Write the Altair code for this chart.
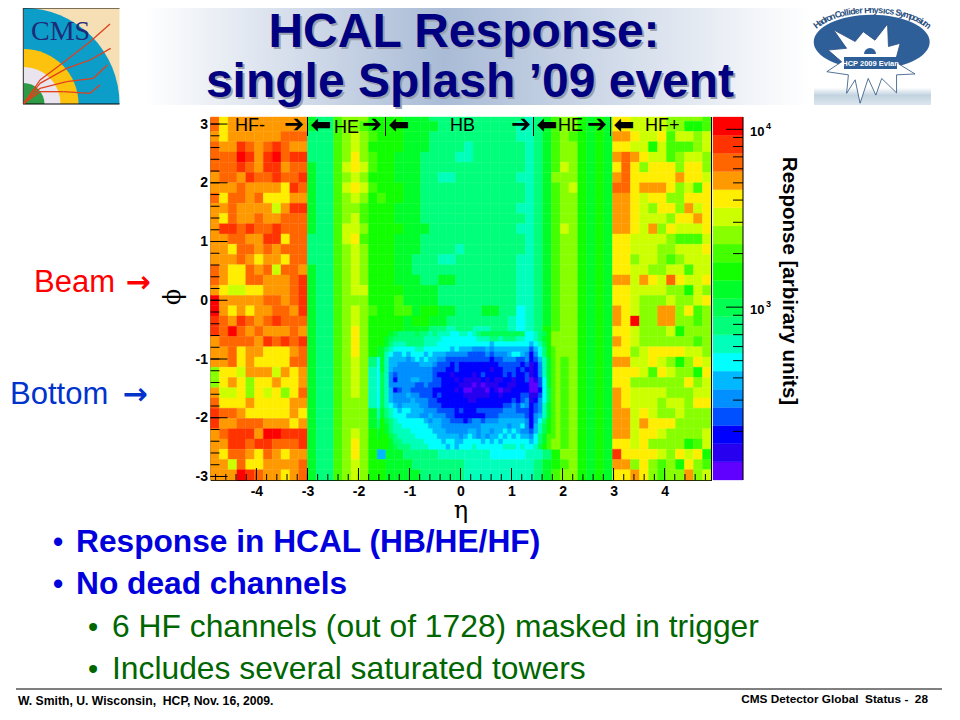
import math
import altair as alt
import pandas as pd

# ---- heat map, one letter per band of the colour bar ("a" lowest, "t" highest) ----
BANDS = "abcdefghijklmnopqrst"
BAND_COLOURS = ["#6000ff", "#2800f0", "#0000ff", "#0050ff", "#0090ff", "#00b8ff", "#00ffff",
                "#00ffbb", "#00ff7a", "#00ff50", "#00ff2a", "#11ff00", "#44ff00", "#88ff00",
                "#ccff00", "#ffee00", "#ff9900", "#ff6600", "#ff3300", "#ff0000"]

hf_minus = [
    "rpqqqqqqqqq", "rpqqqqqqqqq", "qpqqqqqqrrr", "rqqsrqrsrqq", "rrrtsqstrss", "rrrsrqssqrr",
    "qrrqsrrsrrs", "qqqrqqqqpsr", "rprrqrpppqq", "qqrqqqqoqss", "qprqqrqqrrr", "qssrsrrsrrr",
    "qqrrqqssprr", "qqprrqrqrrr", "qqqrqpqqprr", "rqpprqrorrq", "rqpprrqqqrs", "qpooppqqqrs",
    "tqqqqqrrqrs", "tqpqpqqrrqs", "srqsrqrsrrr", "srtrqrqqqrq", "qrrrrqsrsrs", "qqrpqqpppqr",
    "qqrpqpppprr", "nppoqqqoqpq", "npqpnppqppq", "qoopnpopnpr", "rpppqppppqq", "srrqpppppqp",
    "sqqrrrqqqpq", "qrsssqttsss", "qqssrssrrrs", "qprrqprqpqq", "qqorppqqqqr", "qqqtsrqqpqr",
]

barrel = [
    "kjjmn nnlll lkkkj jjjjj jjjjj ijkmn nlklk", "kjjmn nmlll lkkkk jjjjj jjjji ijkmn nlklk",
    "jjjmn onmll lkkkj jjjjj jjjji ijkmn mlklk", "jjjmn onlll lkkkj jjjij jjjjj ijkmn nlklk",
    "jjjmn pnmll kkkjj jjiij jjjjj ijkmn nlklk", "kjjmo pomll kkkjj jjjjj jjjjj ijkmo nlklk",
    "kjjmn onlll kkkjj iijjj jjjji ijknn nlklk", "kjjmo pomll lkkjj jjjjj jjjjj ijkmn olklk",
    "kjjmn onlml lkkjj jjjjj jjjjj ijkmn nlklk", "kjjmn nmlll kkkjj jjjjj jjjji ijkmn nlklk",
    "kjjmn omlll kkkjj jjjjj jjjjj ijkmn nlklk", "kjjmo onlll lkkkj jjjjj jjjji ijkmo nlklk",
    "jjjmo pmlll kkkjj jjjjj jjjjj ijkmn nlklk", "jjjmn onlll kkkjj jjijj jjjjj ijkmn nlklk",
    "jjjmn onlll kkjjj iijjj jjjji ijkmn nlklk", "kjjmn onlll kkjjj jjjjj jjjji ijkmn nlklk",
    "kjjmn onlll kkkjj kkjjj jjjji ijkmn nlklk", "kjjmn oolll lkkkk jjjjj jjjji ijkmn nlklk",
    "kjjmn nnlll mkkkk jjjjj jjjji ijkmn nlklk", "kjjmn onmll mmkll kkjjj kkjjh ijkmn nlklk",
    "kjjmn onlll lkllk kjjjj jjjih ijkmn nlklk", "kjjmn pnlll lkkkj jijji ijjih ijlmn nlklk",
    "kjjmn pnllk kkjji iiihi iiiih hjlmn nlklk", "kjjmn pnlkk jjiih hgggg ggggg ghjln nlklk",
    "kjjmn onjhg gggff eddee eeeee fhjlm nlklk", "kjjmn onihe fffee ddccc ccdcc begkm nlklk",
    "kjjmn onihf gffee dddcb cbcbb adgkm nlklk", "kjjmn onihf ggffe eddcc bcbcc cefjm nlklk",
    "kjjmn nnihg hhgff eeedd ddedd defjm nlklk", "kjjmn nnkih hhhgg ffeee eeeee cfhkm nlklk",
    "kjjmn nnkjh hiiih hgffg ffggf dgikm nlklk", "kjjmn onlkj iiiii hhhgg gggfg ehjlm nlklk",
    "kjjmn pnllk jjjji iihhh hhhhg ghjlm nlklk", "kjjmn pnlgk kjjjj iiiii ihhhh iijln nlklk",
    "kjjmn onllk kkjjj jjjii iiiii ijklm nlklk", "kjjmn onllk kkkjj jjjii iiiii ijkmn nlklk",
]
BARREL_FIX = str.maketrans("jihgfed", "ihgfedc")

hf_plus = [
    "ppoooonnnnm", "ppoooonnllm", "qqpoopmoono", "ppoolommmno", "qrqpoomnoon", "prpnpppnppn",
    "qrpppppqppo", "rrpqqqpnomp", "qqpoppnnppp", "qqponppnqop", "qqpooonppqp", "qqpoqnpooop",
    "ppoooonmmmo", "ppooonnooop", "ppnoonmnooo", "ppoonnoomoo", "qqoqporpoop", "ppoooonnlon",
    "pponnnonnop", "qponnqqnpmn", "qptnnqqnnmn", "pponnnolnnn", "qponnnnnnmn", "ppnoppppoon",
    "qqooponlnpo", "pppomponnlp", "ppnnnnnnpno", "qpoooonnnoo", "qpooonoonpp", "qqoponnonnn",
    "qqoqpppnnnn", "qqopponnnno", "ppopnnnnlmo", "spppponpopl", "qqnpnmnlpnm", "ppqpnmnnqno",
]

# fine towers of the low-response region, eta from left to right, top row first
core_left = [
    "llkji iiiji ihihh hgghh", "lkjii iiiii hhhhg ggggg", "lkihh hiiii hhhgg ggggg",
    "kihgg ggghh ggggg gfgff", "khgff gfggg fgfff eeeee", "khfff fefgf gffee ddddd",
    "khffe eeeef ffedd dcdcc", "khfee eeeee eeddd ccdcc", "jhede eeeee eedcc cbccc",
    "jhece eeffe eeddc ccbcb", "jheee eeedd edddc cccbb", "jhfcd eeddd ddccc ccbca",
    "jhfee efeed ddcdc ccccb", "jhfee eefee eddcc ccccc", "jhgfe ffffe edddc ccccc",
    "kihgf ggfff eeedd ddcdc", "kihgg gfffe efeee ddccc", "ljihg ggggg feffe edddc",
    "lkihh ggggg gfffe eeeee", "lkihh hhggg ggfff eeeee", "lljih hhhgg gggff fffef",
    "llkii hhhhh ggggf ggffg", "llkji iihhh hgggg fgfgg",
]
core_right = [
    "ghijj jjjjj jjjgg hijln n", "gghhh iihii ihhgg hikln n", "ggggg fgggg ggggf ghjln n",
    "feeef effff ffffd fgilm n", "dddde deeef ggfec egilm n", "ddddd cddee eddec dfhkm n",
    "ccccc ccddd ddcdb cehkm n", "ccccc bccdd dcdcb cehkm n", "cbcdc cccdc dccdb cehkm n",
    "bbbcb cbbcc bccda bdgkm n", "babab bbccb bccca adgkm n", "abbba cbabb cccca acgjm n",
    "bbbbb ccbcc ccddb bdgjm n", "bbccc ccccc dcdeb cegjm n", "ccccc cccdd edfec dehkm n",
    "ccddd dddee edddc dehkm n", "ccccd ddeee eeedc efhkm n", "deede eefff fffec egilm n",
    "eeeff ffffe ffgec fhjlm n", "ffeff effgf gfeed fhjlm n", "gfefe ffgfg fgffe gikmm n",
    "gggfg fgfgg ggggf gikmn n", "ghggg ggghh hghgg hjlmn n",
]

ETA_LEFT, ETA_RIGHT = -4.9, 4.92
PHI_BOTTOM, PHI_TOP = -3.06, 3.12
PHI_STEP = 0.1745
ETA_TICKS_MAJOR = [-4, -3, -2, -1, 0, 1, 2, 3, 4]
PHI_TICKS_MAJOR = [-3, -2, -1, 0, 1, 2, 3]
RESP_MIN, RESP_MAX = 106.6, 11730
RESP_TICKS_MAJOR = [1000, 10000]
RESP_TICKS_MINOR = [200, 300, 400, 500, 600, 700, 800, 900, 2000, 3000, 4000, 5000, 6000, 7000, 8000, 9000]

# ---- page geometry ----
PLOT_X, PLOT_Y, PLOT_W, PLOT_H = 210.5, 117, 501, 363
def px(v): return v - PLOT_X
def py(v): return v - PLOT_Y

x_scale = alt.Scale(domain=[ETA_LEFT, ETA_RIGHT], nice=False, zero=False)
y_scale = alt.Scale(domain=[PHI_BOTTOM, PHI_TOP], nice=False, zero=False)
r_scale = alt.Scale(type="log", domain=[RESP_MIN, RESP_MAX], nice=False)
colour_scale = alt.Scale(domain=list(BANDS), range=BAND_COLOURS)
x_axis = alt.Axis(values=ETA_TICKS_MAJOR, ticks=False, grid=False, title=None, domain=True, domainColor="black",
                  labelFont="Liberation Sans", labelFontWeight="bold", labelFontSize=14, labelColor="black",
                  labelPadding=4, labelExpr="'' + datum.value", orient="bottom")
y_axis = alt.Axis(values=PHI_TICKS_MAJOR, ticks=False, grid=False, title=None, domain=True, domainColor="black",
                  labelFont="Liberation Sans", labelFontWeight="bold", labelFontSize=14, labelColor="black",
                  labelPadding=3, labelExpr="'' + datum.value", orient="left")

# ---- build cells ----
cells = []
def add(rows, eta0, eta1, fix=None):
    for i, row in enumerate(rows):
        row = row.replace(" ", "")
        if fix: row = row.translate(fix)
        w = (eta1 - eta0) / len(row)
        y0 = PHI_BOTTOM + PHI_STEP * (35 - i)
        for j, ch in enumerate(row):
            cells.append(dict(x0=eta0 + j * w, x1=eta0 + (j + 1) * w, y0=y0,
                              y1=min(y0 + PHI_STEP, PHI_TOP), lvl=ch))
add(hf_minus, ETA_LEFT, -3.0)
add(barrel, -3.0, 2.98, BARREL_FIX)
add(hf_plus, 2.98, ETA_RIGHT)
FINE_ETA0, FINE_DETA = -1.575, 0.0860
FINE_PHI_TOP, FINE_DPHI = PHI_BOTTOM + 29 * PHI_STEP / 2, PHI_STEP / 2
for i, (a, b) in enumerate(zip(core_left, core_right)):
    row = (a + b).replace(" ", "")
    assert len(row) == 41, (i, row)
    for j, ch in enumerate(row):
        cells.append(dict(x0=FINE_ETA0 + j * FINE_DETA, x1=FINE_ETA0 + (j + 1) * FINE_DETA,
                          y0=FINE_PHI_TOP - (i + 1) * FINE_DPHI, y1=FINE_PHI_TOP - i * FINE_DPHI, lvl=ch))
cells_df = pd.DataFrame(cells)

layers = []
one = pd.DataFrame({"a": [0]})

def txt(s, x, y, size=13, color="black", font="Liberation Sans", weight="normal",
        align="left", angle=None, baseline="alphabetic", style=None):
    kw = dict(text=s, fontSize=size, color=color, font=font, fontWeight=weight,
              align=align, baseline=baseline)
    if angle is not None: kw["angle"] = angle
    if style: kw["fontStyle"] = style
    layers.append(alt.Chart(one).mark_text(**kw).encode(x=alt.value(px(x)), y=alt.value(py(y))))

def box(x0, y0, x1, y1, color):
    layers.append(alt.Chart(one).mark_rect(color=color).encode(
        x=alt.value(px(x0)), x2=alt.value(px(x1)), y=alt.value(py(y0)), y2=alt.value(py(y1))))

def seg(x0, y0, x1, y1, color="black", width=1):
    layers.append(alt.Chart(one).mark_rule(color=color, size=width).encode(
        x=alt.value(px(x0)), x2=alt.value(px(x1)), y=alt.value(py(y0)), y2=alt.value(py(y1))))

def arc(cx, cy, r0, r1, t0, t1, color):
    layers.append(alt.Chart(one).mark_arc(radius=r1, radius2=r0, theta=t0, theta2=t1, color=color).encode(
        x=alt.value(px(cx)), y=alt.value(py(cy))))

# ---- banner ----
banner = alt.Gradient(gradient="linear", x1=0, x2=1, y1=0, y2=0, stops=[
    alt.GradientStop(offset=0, color="#ffffff"),
    alt.GradientStop(offset=0.45, color="#a9bbd6"),
    alt.GradientStop(offset=1, color="#ffffff")])
layers.append(alt.Chart(one).mark_rect(fill=banner).encode(
    x=alt.value(px(145)), x2=alt.value(px(810)), y=alt.value(py(8)), y2=alt.value(py(105))))

# ---- CMS logo ----
box(23, 8, 119.5, 104, "#f6dfb5")
arc(23.5, 104, 0, 96, 0, 1.5708, "#0c9dc8")
arc(23.5, 104, 0, 55, 0, 1.5708, "#fcc20d")
arc(23.5, 104, 0, 37, 0, 1.5708, "#e9e4ee")
arc(23.5, 104, 0, 21, 0, 1.5708, "#2f9a45")
seg(23, 8, 119.5, 8)
seg(23, 104, 119.5, 104)
seg(23.3, 8, 23.3, 104, color="#333333")
txt("CMS", 31, 40, size=28, color="#1f2a78", font="Liberation Serif")
TRACKS = [
    [(72, 310), (120, 240), (200, 180), (270, 125), (330, 72)],
    [(72, 310), (120, 250), (200, 205), (270, 180), (332, 145)],
    [(72, 310), (120, 265), (200, 245), (280, 235), (322, 195)],
    [(72, 310), (120, 275), (190, 275), (270, 280), (300, 255)],
]
for tr in TRACKS:
    for (a, b), (c, d) in zip(tr, tr[1:]):
        seg(a / 3, b / 3, c / 3, d / 3, color="#e0401c", width=1.3)

# ---- HCP logo ----
hcp_fade = alt.Gradient(gradient="linear", x1=0, x2=0, y1=0, y2=1, stops=[
    alt.GradientStop(offset=0, color="#ffffff"),
    alt.GradientStop(offset=0.82, color="#ffffff"),
    alt.GradientStop(offset=0.9, color="#c2d3e0"),
    alt.GradientStop(offset=1, color="#dde6ee")])
layers.append(alt.Chart(one).mark_rect(fill=hcp_fade).encode(
    x=alt.value(px(814)), x2=alt.value(px(931)), y=alt.value(py(8)), y2=alt.value(py(105))))
ELLIPSE = "M-1,0 A1,0.47 0 1 1 1,0 A1,0.47 0 1 1 -1,0 Z"
layers.append(alt.Chart(one).mark_point(shape=ELLIPSE, size=13456, filled=True, color="#2f5f99", opacity=1).encode(
    x=alt.value(px(871.7)), y=alt.value(py(42))))
STAR = ("M-0.81,-0.67 L-0.33,-0.41 L-0.15,-0.63 L0.11,-0.44 L0.39,-0.8 L0.41,-0.3 L0.67,-0.37 L0.56,0.04 "
        "L1,0.31 L0.59,0.33 L0.59,0.73 L0.26,0.41 L0.13,0.78 L-0.04,0.41 L-0.22,0.96 L-0.33,0.44 L-0.52,0.74 "
        "L-0.48,0.33 L-0.96,0.26 L-0.63,0.04 L-0.93,-0.22 L-0.52,-0.26 Z")
layers.append(alt.Chart(one).mark_point(shape=STAR, size=8100, filled=True, fill="white", opacity=1,
                                        stroke="#2a4f80", strokeWidth=0.8).encode(
    x=alt.value(px(870)), y=alt.value(py(60))))
arc(870, 54, 0, 6, 0, 1.5708, "#2f5f99")
arc(870, 54, 0, 6, 4.7124, 6.2832, "#2f5f99")
box(844, 57, 897, 69, "#2f5f99")
txt("HCP 2009 Evian", 870.5, 66, size=7.5, color="white", weight="bold", align="center")
ARC_TEXT = "Hadron Collider Physics Symposium"
def char_width(ch):
    return 0.28 if ch in "il " else 0.38 if ch in "rt" else 0.85 if ch in "mH" else 0.56
arc_widths = [char_width(c) for c in ARC_TEXT]
arc_total = sum(arc_widths)
arc_done = 0.0
for ch, w in zip(ARC_TEXT, arc_widths):
    t = math.radians(-62 + 124 * (arc_done + w / 2) / arc_total)
    arc_done += w
    txt(ch, 872 + 62 * math.sin(t), 42 - 29 * math.cos(t), size=9, color="#2a4f80", weight="bold",
        align="center", angle=(math.degrees(math.atan2(29 * math.sin(t), 62 * math.cos(t))) + 360) % 360)

# ---- title ----
TITLE_LINES = [("HCAL Response:", 464, 47), ("single Splash \u201909 event", 470, 97)]
for s, x, y in TITLE_LINES:
    txt(s, x + 2, y + 2, size=48, color="#9aa0b0", weight="bold", align="center")
    txt(s, x, y, size=48, color="#000080", weight="bold", align="center")

# ---- heat map ----
layers.append(alt.Chart(cells_df).mark_rect(strokeWidth=0.4).encode(
    x=alt.X("x0:Q", scale=x_scale, axis=x_axis),
    x2="x1:Q",
    y=alt.Y("y0:Q", scale=y_scale, axis=y_axis),
    y2="y1:Q",
    color=alt.Color("lvl:N", scale=colour_scale, legend=None),
    stroke=alt.Stroke("lvl:N", scale=colour_scale, legend=None),
))

# ---- inward ticks ----
def eta_ticks(vals, length):
    df = pd.DataFrame({"v": vals})
    layers.append(alt.Chart(df).mark_rule(color="black", size=1).encode(
        x=alt.X("v:Q", scale=x_scale, axis=x_axis),
        y=alt.value(PLOT_H), y2=alt.value(PLOT_H - length)))
def phi_ticks(vals, length):
    df = pd.DataFrame({"v": vals})
    layers.append(alt.Chart(df).mark_rule(color="black", size=1).encode(
        y=alt.Y("v:Q", scale=y_scale, axis=None),
        x=alt.value(0), x2=alt.value(length)))
eta_minor = [round(-4.8 + 0.2 * i, 1) for i in range(49)]
phi_minor = [round(-3.0 + 0.2 * i, 1) for i in range(31)]
eta_ticks(eta_minor, 6)
eta_ticks(ETA_TICKS_MAJOR, 12)
phi_ticks(phi_minor, 9)
phi_ticks(PHI_TICKS_MAJOR, 17)
seg(PLOT_X + PLOT_W, PLOT_Y, PLOT_X + PLOT_W, PLOT_Y + PLOT_H)

# ---- colour bar ----
edges = [RESP_MIN * (RESP_MAX / RESP_MIN) ** (i / 20) for i in range(21)]
bar_df = pd.DataFrame({"lo": edges[:-1], "hi": edges[1:], "lvl": list(BANDS)})
layers.append(alt.Chart(bar_df).mark_rect(strokeWidth=0.3).encode(
    x=alt.value(px(713)), x2=alt.value(px(743)),
    y=alt.Y("lo:Q", scale=r_scale, axis=None), y2="hi:Q",
    color=alt.Color("lvl:N", scale=colour_scale, legend=None),
    stroke=alt.Stroke("lvl:N", scale=colour_scale, legend=None),
))
seg(743, PLOT_Y, 743, PLOT_Y + PLOT_H)
for vals, length in [(RESP_TICKS_MINOR, 10), (RESP_TICKS_MAJOR, 17)]:
    df = pd.DataFrame({"v": vals})
    layers.append(alt.Chart(df).mark_rule(color="black", size=1).encode(
        y=alt.Y("v:Q", scale=r_scale, axis=None),
        x=alt.value(px(743 - length)), x2=alt.value(px(743))))
bar_labels = pd.DataFrame({"v": RESP_TICKS_MAJOR, "e": ["3", "4"]})
layers.append(alt.Chart(bar_labels).mark_text(
    text="10", font="Liberation Sans", fontWeight="bold", fontSize=13, align="left", baseline="middle", dy=3
).encode(x=alt.value(px(750)), y=alt.Y("v:Q", scale=r_scale, axis=None)))
layers.append(alt.Chart(bar_labels).mark_text(
    font="Liberation Sans", fontWeight="bold", fontSize=9, align="left", baseline="middle", dy=-3
).encode(x=alt.value(px(766)), y=alt.Y("v:Q", scale=r_scale, axis=None), text="e:N"))
txt("Response [arbirary units]", 789, 281, size=20.5, weight="bold", align="center", angle=90, baseline="middle")

# ---- detector labels along the top of the map ----
ARROW_FONT = "DejaVu Sans"
for s, x, y in [("HF-", 235, 131), ("HE", 334, 133), ("HB", 450, 131), ("HE", 558, 131), ("HF+", 645, 131)]:
    txt(s, x, y, size=18)
for x in [294, 372, 521, 597]:
    txt("\u2794", x, 132, size=24, font=ARROW_FONT, weight="bold", align="center")
for x in [321, 399, 547, 624]:
    txt("\u2b05", x, 133, size=25, font=ARROW_FONT, weight="bold", align="center")
for x in [307.5, 385.5, 533.5, 610.5]:
    seg(x, 117, x, 136)

# ---- side labels ----
txt("Beam", 34, 292, size=31, color="#ff0000")
txt("\u2192", 138, 292, size=30, color="#ff0000", font=ARROW_FONT, weight="bold", align="center")
txt("Bottom", 10, 404, size=31, color="#0033cc")
txt("\u2192", 135, 404, size=30, color="#0033cc", font=ARROW_FONT, weight="bold", align="center")
txt("\u03d5", 174, 297, size=24, font="DejaVu Serif", align="center", baseline="middle", angle=90)
txt("\u03b7", 461, 518, size=24, font="DejaVu Serif", align="center")

# ---- bullets ----
BLUE, GREEN = "#0000dd", "#006600"
for s, y in [("Response in HCAL (HB/HE/HF)", 552), ("No dead channels", 594)]:
    txt("\u2022", 53, y, size=29, color=BLUE, weight="bold")
    txt(s, 76, y, size=31.7, color=BLUE, weight="bold")
for s, y in [("6 HF channels (out of 1728) masked in trigger", 637), ("Includes several saturated towers", 679)]:
    txt("\u2022", 88, y, size=29, color=GREEN)
    txt(s, 112, y, size=31.8, color=GREEN)

# ---- footer ----
seg(16, 689, 942, 689)
txt("W. Smith, U. Wisconsin,\u00a0\u00a0HCP, Nov. 16, 2009.", 18, 705, size=12.2, weight="bold")
txt("CMS Detector Global\u00a0\u00a0Status -\u00a0\u00a028", 928, 703, size=11.8, weight="bold", align="right")

chart = alt.layer(*layers).resolve_scale(y="independent").properties(
    width=PLOT_W, height=PLOT_H, autosize="none", background="white",
    padding={"left": PLOT_X - 8, "top": PLOT_Y - 8,
             "right": 944 - (PLOT_X - 8) - PLOT_W, "bottom": 704 - (PLOT_Y - 8) - PLOT_H},
).configure_view(stroke=None)

chart.save("out.html", embed_options={"renderer": "svg", "actions": False})
